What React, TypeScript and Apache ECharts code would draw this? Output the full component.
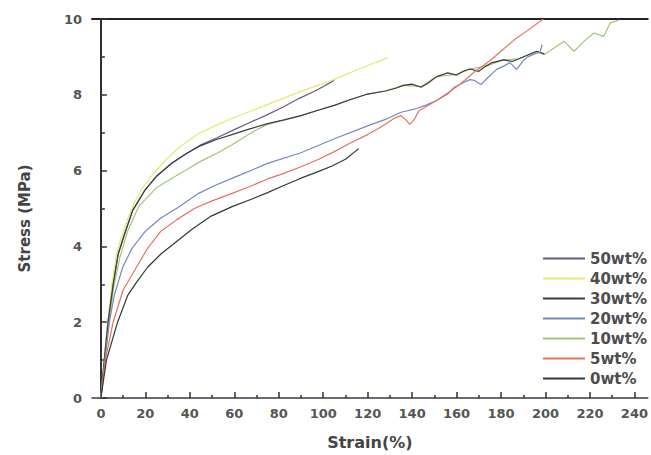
import React, { useEffect, useRef } from "react";
import * as echarts from "echarts";

const X_MAJOR = [0, 20, 40, 60, 80, 100, 120, 140, 160, 180, 200, 220, 240];
const X_MINOR = [10, 30, 50, 70, 90, 110, 130, 150, 170, 190, 210, 230];

const LEGEND_NAMES = ["50wt%", "40wt%", "30wt%", "20wt%", "10wt%", "5wt%", "0wt%"];
const COLORS = ["#6a5a8a", "#e6ea6e", "#3d3d3d", "#7589c0", "#a2c57a", "#e4735f", "#2f3b30"];

const wt50 = [
  [0, 0], [1.5, 1], [3.2, 2], [5.5, 3], [7.8, 3.8], [10.5, 4.3], [14.3, 4.95], [20, 5.5],
  [25, 5.85], [32, 6.2], [38.5, 6.45], [45, 6.68], [52, 6.86], [60, 7.08], [67, 7.27],
  [74, 7.45], [82, 7.68], [89, 7.9], [97, 8.12], [105, 8.38],
];
const wt40 = [
  [0, 0], [1.5, 1], [3, 2], [5, 3], [7, 3.8], [9.5, 4.3], [11.6, 4.65], [15, 5.15],
  [18.8, 5.55], [24, 5.95], [29.5, 6.3], [36, 6.65], [44, 6.98], [52, 7.2], [59, 7.38],
  [74, 7.72], [89, 8.07], [104, 8.38], [116, 8.68], [129, 8.98],
];
const wt30 = [
  [0, 0], [1.5, 1], [3.2, 2], [5.5, 3], [7.8, 3.8], [10.5, 4.3], [14.3, 4.95], [20, 5.5],
  [25, 5.85], [32, 6.2], [38.5, 6.45], [45, 6.66], [52, 6.82], [60, 6.97], [67, 7.1],
  [75, 7.24], [82, 7.33], [90, 7.45], [98, 7.6], [105, 7.72], [112, 7.87], [120, 8.02],
  [128, 8.1], [133, 8.18], [136, 8.25], [140, 8.28], [144, 8.2], [147, 8.3], [151, 8.48],
  [156, 8.58], [160, 8.52], [163, 8.62], [166, 8.68], [170, 8.62], [173, 8.75], [176, 8.85],
  [181, 8.92], [185, 8.88], [188, 8.95], [192, 9.05], [196, 9.15], [199.5, 9.08],
];
const wt20 = [
  [0, 0], [1.8, 1], [3.8, 2], [6, 2.7], [9.8, 3.45], [14, 3.95], [20, 4.4], [27, 4.75],
  [34.5, 5.02], [44, 5.4], [51, 5.6], [60, 5.82], [75, 6.19], [90, 6.47], [105, 6.84],
  [120, 7.18], [128, 7.35], [135, 7.54], [141, 7.62], [146, 7.72], [151, 7.85], [156, 8.02],
  [159, 8.2], [163, 8.32], [166, 8.4], [168, 8.38], [171, 8.27], [174, 8.45], [178, 8.67],
  [181, 8.75], [184, 8.85], [187, 8.67], [190, 8.9], [192, 9.0], [196, 9.1], [197.5, 9.12],
  [198.5, 9.32],
];
const wt10 = [
  [0, 0], [1.8, 1], [3.6, 2], [6, 3], [8.5, 3.7], [12, 4.4], [17, 5.05], [25, 5.55],
  [32, 5.8], [38.5, 6.02], [45, 6.25], [52, 6.45], [59, 6.68], [65, 6.9], [70, 7.08],
  [75, 7.22], [82, 7.33], [90, 7.45], [98, 7.6], [105, 7.72], [112, 7.87], [120, 8.02],
  [128, 8.1], [136, 8.25], [144, 8.22], [151, 8.48], [160, 8.54], [166, 8.68], [173, 8.75],
  [181, 8.92], [188, 8.95], [196, 9.14], [199.5, 9.06], [203, 9.2], [208.4, 9.41],
  [212.8, 9.15], [217.3, 9.41], [221.7, 9.63], [226.2, 9.54], [229, 9.89], [232.9, 9.97],
];
const wt5 = [
  [0, 0], [2, 1], [5.5, 2], [10, 2.85], [16, 3.45], [21, 3.95], [27, 4.4], [34, 4.7],
  [42, 5.0], [50, 5.2], [59, 5.4], [67, 5.58], [75, 5.78], [82, 5.92], [90, 6.1],
  [98, 6.3], [105, 6.5], [112, 6.72], [120, 6.95], [126, 7.15], [132, 7.38], [135, 7.45],
  [137, 7.35], [139, 7.22], [141, 7.35], [143, 7.58], [146, 7.68], [151, 7.85], [156, 8.05],
  [162, 8.3], [168, 8.6], [175, 8.9], [181, 9.2], [186, 9.45], [192, 9.7], [199, 10.0],
];
const wt0 = [
  [0, 0], [2.5, 1], [7.5, 2], [12, 2.7], [16, 3.05], [21, 3.45], [27, 3.8], [34.5, 4.15],
  [41, 4.45], [49.6, 4.8], [59, 5.05], [68, 5.25], [75, 5.42], [82, 5.6], [90, 5.8],
  [98, 5.98], [104, 6.12], [110, 6.3], [116, 6.58],
];

const SERIES_DATA = [wt50, wt40, wt30, wt20, wt10, wt5, wt0];

const FONT = "DejaVu Sans";

export default function App() {
  const ref = useRef<HTMLDivElement>(null);
  useEffect(() => {
    if (!ref.current) return;
    const chart = echarts.init(ref.current, undefined, { renderer: "svg" });
    const option = {
      animation: false,
      backgroundColor: "#ffffff",
      grid: { left: 92, right: 0, top: 19, bottom: 53, containLabel: false },
      legend: {
        orient: "vertical",
        left: 538,
        top: 246,
        icon: "rect",
        itemWidth: 42,
        itemHeight: 2,
        itemGap: 5,
        selectedMode: false,
        data: LEGEND_NAMES,
        textStyle: {
          fontFamily: FONT,
          fontWeight: "bold",
          fontSize: 15,
          lineHeight: 15,
          color: "#4d4d4d",
        },
      },
      xAxis: [
        {
          type: "value",
          min: -4,
          max: 246,
          position: "bottom",
          axisLine: { onZero: false, lineStyle: { color: "#3a3a4a", width: 1.5 } },
          axisTick: {
            inside: true,
            length: 6,
            customValues: X_MAJOR,
            lineStyle: { color: "#333", width: 1.5 },
          },
          axisLabel: {
            customValues: X_MAJOR,
            margin: 9,
            fontFamily: FONT,
            fontWeight: "bold",
            fontSize: 13,
            color: "#555",
          },
          splitLine: { show: false },
          name: "Strain(%)",
          nameLocation: "middle",
          nameGap: 36,
          nameTextStyle: { fontFamily: FONT, fontWeight: "bold", fontSize: 16, color: "#444" },
        },
        {
          type: "value",
          min: -4,
          max: 246,
          position: "bottom",
          axisLine: { show: false, onZero: false },
          axisTick: {
            inside: true,
            length: 3,
            customValues: X_MINOR,
            lineStyle: { color: "#333", width: 1.5 },
          },
          axisLabel: { show: false },
          splitLine: { show: false },
        },
        {
          type: "value",
          min: -4,
          max: 246,
          position: "top",
          axisLine: { show: true, onZero: false, lineStyle: { color: "#222", width: 2 } },
          axisTick: { show: false },
          axisLabel: { show: false },
          splitLine: { show: false },
        },
      ],
      yAxis: {
        type: "value",
        min: 0,
        max: 10,
        interval: 2,
        axisLine: { show: true, lineStyle: { color: "#333", width: 2 } },
        axisTick: { show: true, inside: true, length: 6, lineStyle: { color: "#333", width: 1.5 } },
        minorTick: { show: true, splitNumber: 2, length: 4, lineStyle: { color: "#333", width: 1.5 } },
        axisLabel: {
          margin: 10,
          fontFamily: FONT,
          fontWeight: "bold",
          fontSize: 13,
          color: "#555",
        },
        splitLine: { show: false },
        minorSplitLine: { show: false },
        name: "Stress (MPa)",
        nameLocation: "middle",
        nameGap: 60,
        nameTextStyle: {
          fontFamily: FONT,
          fontWeight: "bold",
          fontSize: 15,
          color: "#444",
          padding: [0, 20, 0, 0],
        },
      },
      series: LEGEND_NAMES.map((name, i) => ({
        name,
        type: "line",
        xAxisIndex: 0,
        data: SERIES_DATA[i],
        symbol: "none",
        smooth: false,
        z: name === "10wt%" ? 1 : 2,
        color: COLORS[i],
        lineStyle: { width: 1.2, color: COLORS[i] },
      })),
    };
    chart.setOption(option as any);
    return () => chart.dispose();
  }, []);
  return <div ref={ref} style={{ width: 651, height: 455, position: "absolute", left: 0, top: 0 }} />;
}
